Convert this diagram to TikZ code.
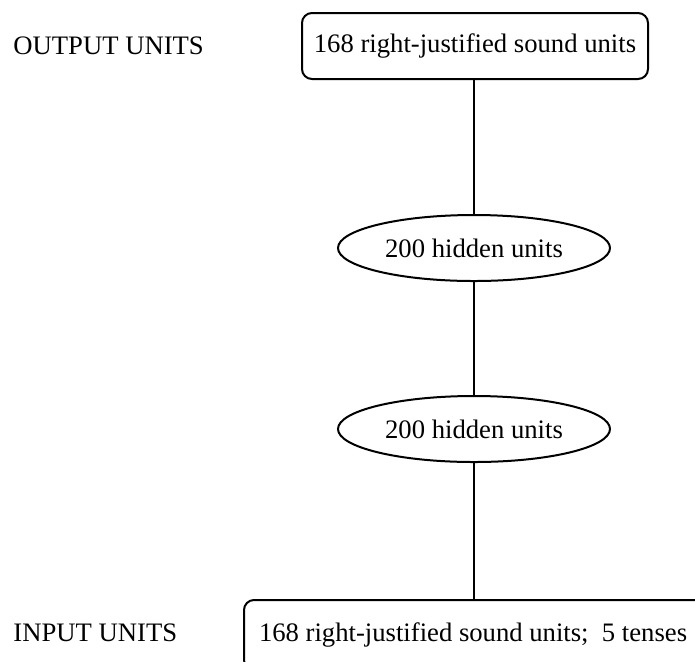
\documentclass[tikz,border=0pt]{standalone}
\usepackage{fontspec}
\setmainfont{Liberation Serif}
\usetikzlibrary{shapes.geometric}

\tikzset{
	unitbox/.style={draw, line width=0.9pt, rounded corners=4.5pt, inner sep=0pt, minimum height=29.7pt},
	hiddenlayer/.style={draw, ellipse, line width=0.9pt, inner sep=0pt, minimum width=122.4pt, minimum height=29.7pt},
	layerlabel/.style={anchor=west, inner sep=0pt},
	link/.style={line width=0.9pt}
}

\begin{document}
\begin{tikzpicture}[x=0.45pt,y=0.45pt,yscale=-1,xscale=1,font=\fontsize{12}{14}\selectfont]
	\useasboundingbox (0,0) rectangle (695,661);
	
	%Shape: Rounded Rect
	\node [unitbox, minimum width=155.7pt] (outbox) at (475,46) {168 right-justified sound units};
	%Shape: Ellipse
	\node [hiddenlayer] (hidA) at (474,248) {200 hidden units};
	%Shape: Ellipse
	\node [hiddenlayer] (hidB) at (474,429) {200 hidden units};
	%Shape: Rounded Rect (runs off the page at the right)
	\node [unitbox, minimum height=31.5pt, inner xsep=6.75pt, anchor=west] (inbox) at (243,635) {168 right-justified sound units;\ \ 5 tenses\hspace*{4pt}};
	
	%Straight Lines
	\draw [link] (hidA.north |- outbox.south) -- (hidA.north) ;
	%Straight Lines
	\draw [link] (hidA.south) -- (hidB.north) ;
	%Straight Lines
	\draw [link] (hidB.south) -- (hidB.south |- inbox.north) ;
	
	% Text Node
	\node [layerlabel] (outlabel) at (13,46) {OUTPUT UNITS};
	% Text Node
	\node [layerlabel] (inlabel) at (13,633) {INPUT UNITS};
	
\end{tikzpicture}
\end{document}
